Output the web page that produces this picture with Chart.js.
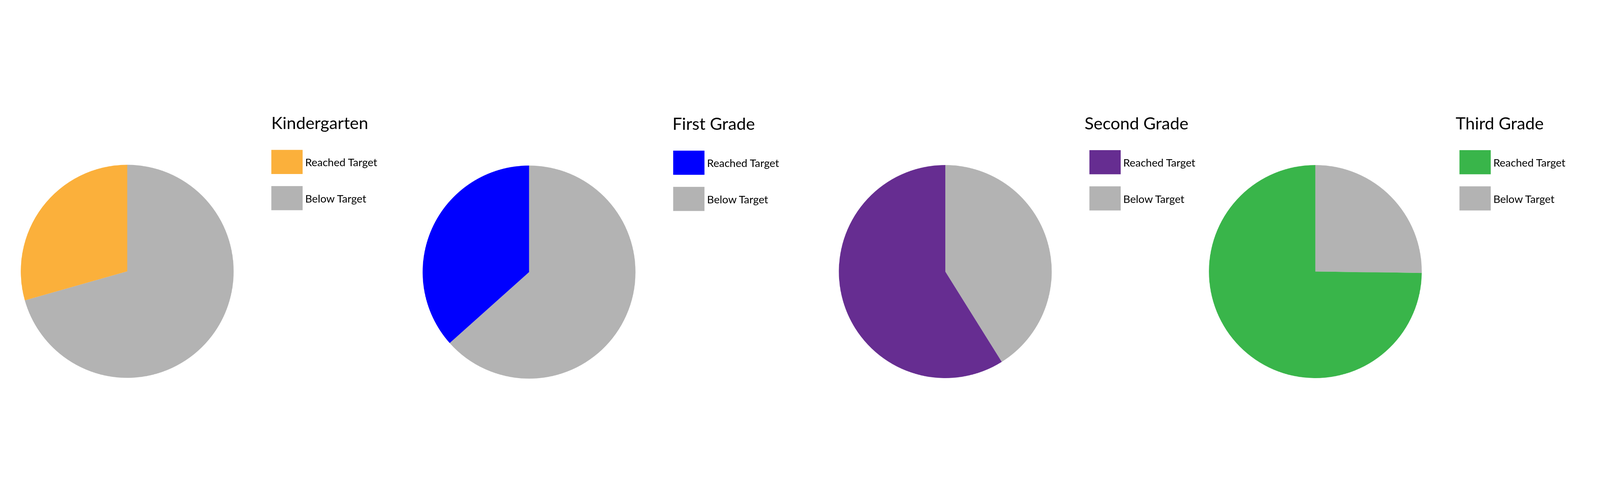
<!DOCTYPE html>
<html>
<head>
<meta charset="utf-8">
<title>Reached Target by Grade</title>
<script src="https://cdn.jsdelivr.net/npm/chart.js@4.4.1/dist/chart.umd.min.js"></script>
<style>
  html, body { margin: 0; background: #fff; overflow: hidden; }
  #stage {
    position: absolute;
    width: 6239px;
    height: 1225px;
    transform-origin: 0 0;
    font-family: Lato, "Open Sans", sans-serif;
    color: #000;
  }
  .pie { position: absolute; width: 830px; height: 830px; }
  .legend-title { position: absolute; font-size: 66px; line-height: 66px; white-space: nowrap; }
  .legend-box { position: absolute; width: 122px; height: 94px; }
  .legend-label { position: absolute; font-size: 42px; line-height: 42px; white-space: nowrap; }
</style>
</head>
<body>
<div id="stage"></div>
<script>
// Data
const grades = ['Kindergarten', 'First Grade', 'Second Grade', 'Third Grade'];
const legendLabels = ['Reached Target', 'Below Target'];
const reachedPct = [29.4, 36.6, 58.9, 74.8];
const belowPct = [70.6, 63.4, 41.1, 25.2];
const reachedColors = ['#FBB03B', '#0000FF', '#662D91', '#39B54A'];
const belowColor = '#B3B3B3';

// Layout, in the 6239 x 1225 frame of the original
const pieCenterX = [496, 2063, 3686, 5129];
const pieCenterY = [737, 740, 738, 738];
const pieSize = 830;
const legendOffset = 562;   // box left edge relative to pie centre
const boxTop = 264;
const boxPitch = 141;
const titleShift = [0, -3, -19, -15];

// the window may be smaller than the original, so fit the whole frame in it
const stage = document.getElementById('stage');
const scale = Math.min(window.innerWidth / 6239, window.innerHeight / 1225, 1);
stage.style.left = ((window.innerWidth - 6239 * scale) / 2) + 'px';
stage.style.top = ((window.innerHeight - 1225 * scale) / 2) + 'px';
stage.style.transform = 'scale(' + scale + ')';

grades.forEach((grade, i) => {
    const dy = pieCenterY[i] - pieCenterY[0];

    // pie
    const wrap = document.createElement('div');
    wrap.className = 'pie';
    wrap.style.left = (pieCenterX[i] - pieSize / 2) + 'px';
    wrap.style.top = (pieCenterY[i] - pieSize / 2) + 'px';
    const canvas = document.createElement('canvas');
    wrap.appendChild(canvas);
    stage.appendChild(wrap);

    // slices go clockwise from 12 o'clock: Below first, then Reached
    new Chart(canvas, {
        type: 'pie',
        data: {
            labels: [legendLabels[1], legendLabels[0]],
            datasets: [{
                data: [belowPct[i], reachedPct[i]],
                backgroundColor: [belowColor, reachedColors[i]],
                borderWidth: 0
            }]
        },
        options: {
            responsive: true,
            maintainAspectRatio: false,
            animation: false,
            events: [],
            layout: { padding: 0 },
            plugins: {
                legend: { display: false },
                tooltip: { enabled: false }
            }
        }
    });

    // legend (Reached first, as in the original)
    const left = pieCenterX[i] + legendOffset;
    const top = boxTop + dy;

    const title = document.createElement('div');
    title.className = 'legend-title';
    title.textContent = grade;
    title.style.left = (left + titleShift[i]) + 'px';
    title.style.top = (top - 139) + 'px';
    stage.appendChild(title);

    const colors = [reachedColors[i], belowColor];
    legendLabels.forEach((label, k) => {
        const box = document.createElement('div');
        box.className = 'legend-box';
        box.style.background = colors[k];
        box.style.left = left + 'px';
        box.style.top = (top + k * boxPitch) + 'px';
        stage.appendChild(box);

        const text = document.createElement('div');
        text.className = 'legend-label';
        text.textContent = label;
        text.style.left = (left + 132) + 'px';
        text.style.top = (top + k * boxPitch + 27) + 'px';
        stage.appendChild(text);
    });
});
</script>
</body>
</html>
